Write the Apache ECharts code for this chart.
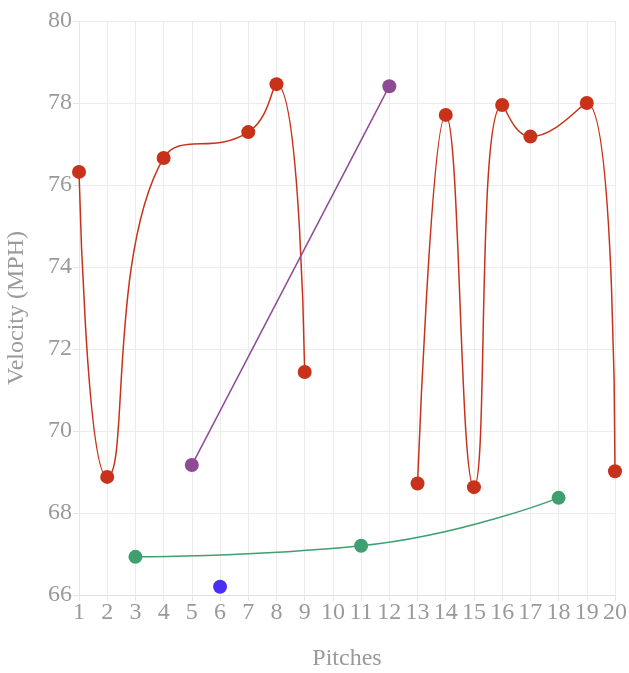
<!DOCTYPE html>
<html><head><meta charset="utf-8">
<script src="https://cdn.jsdelivr.net/npm/echarts@6/dist/echarts.min.js"></script>
<style>html,body{margin:0;padding:0;background:#fff}#c{width:629px;height:673px}</style>
</head><body><div id="c"></div>
<script>
const categories = ['1','2','3','4','5','6','7','8','9','10','11','12','13','14','15','16','17','18','19','20'];
const yTicks = [66,68,70,72,74,76,78,80];
const redPitches = [1,2,4,7,8,9,10,13,14,15,16,17,19,20];
const redValues = [76.32,68.88,76.66,77.29,78.46,71.44,null,68.72,77.71,68.63,77.95,77.18,78.0,69.02];
const purplePitches = [5,12];
const purpleValues = [69.17,78.41];
const greenPitches = [3,11,18];
const greenValues = [66.93,67.20,68.37];
const bluePitches = [6];
const blueValues = [66.20];

function pairs(p, v){ return p.map((x,i)=>[String(x), v[i]===null ? '-' : v[i]]); }
const font = '"Liberation Serif", serif';
function mk(name, p, v, color){
  return {type:'line', name, data:pairs(p,v), smooth:0.5, symbol:'circle', symbolSize:14,
    lineStyle:{color, width:1.5}, itemStyle:{color}, connectNulls:false, animation:false};
}
const chart = echarts.init(document.getElementById('c'));
chart.setOption({
  animation:false,
  grid:{left:79, right:14, top:21, bottom:78, containLabel:false, outerBoundsMode:'none'},
  xAxis:{type:'category', data:categories, boundaryGap:false,
    name:'Pitches', nameLocation:'middle', nameGap:52,
    nameTextStyle:{color:'#9a9a9a', fontSize:24, fontFamily:font},
    axisLine:{lineStyle:{color:'#e0e0e0'}},
    axisTick:{show:true, length:6, lineStyle:{color:'#e6e6e6'}, alignWithLabel:true},
    axisLabel:{color:'#9a9a9a', fontSize:24, fontFamily:font, margin:6, interval:0},
    splitLine:{show:true, lineStyle:{color:'#ececec'}}},
  yAxis:{type:'value', min:yTicks[0], max:yTicks[yTicks.length-1], interval:2,
    name:'Velocity (MPH)', nameLocation:'middle', nameGap:50,
    nameTextStyle:{color:'#9a9a9a', fontSize:24, fontFamily:font},
    axisLine:{show:true, lineStyle:{color:'#e6e6e6'}},
    axisTick:{show:true, length:6, lineStyle:{color:'#e6e6e6'}},
    axisLabel:{color:'#9a9a9a', fontSize:24, fontFamily:font, margin:7},
    splitLine:{show:true, lineStyle:{color:'#ececec'}}},
  series:[
    mk('Red', redPitches, redValues, '#c8321a'),
    mk('Purple', purplePitches, purpleValues, '#8f4a95'),
    mk('Green', greenPitches, greenValues, '#3f9f6e'),
    mk('Blue', bluePitches, blueValues, '#4b2ff6')
  ]
});
</script></body></html>
